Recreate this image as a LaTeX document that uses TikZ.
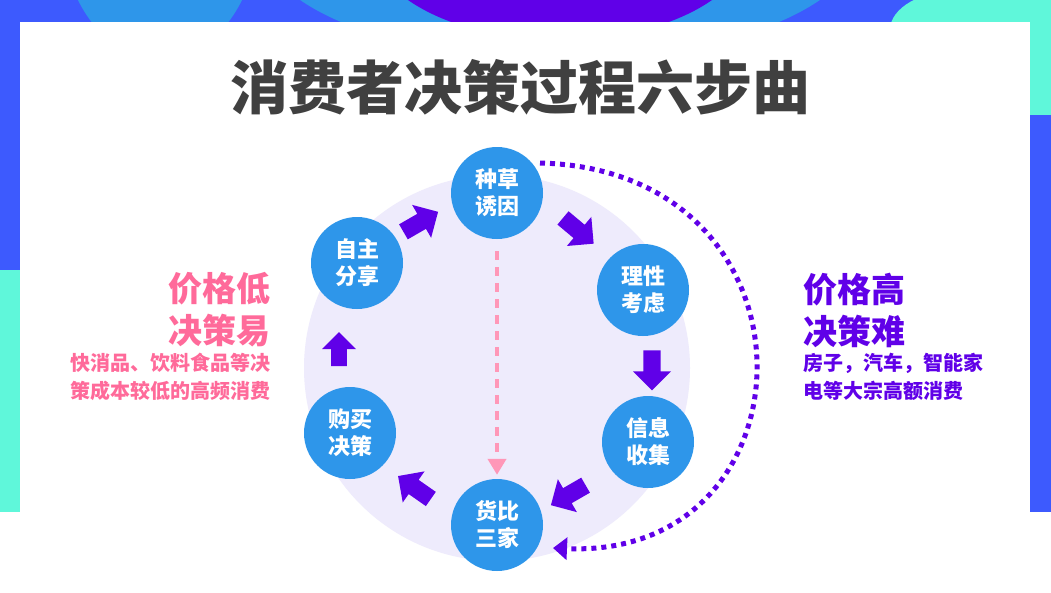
\documentclass[tikz,border=0pt]{standalone}
\usepackage{fontspec}
\setmainfont{Noto Sans CJK SC}
\usetikzlibrary{shapes.arrows,arrows.meta,calc}
\definecolor{bblue}{HTML}{2E96EA}
\definecolor{ppl}{HTML}{6000E8}
\definecolor{pnk}{HTML}{FF6A9A}
\definecolor{teal}{HTML}{5FF7DA}
\definecolor{royal}{HTML}{3D5AFE}
\definecolor{lav}{HTML}{EEEBFC}
\tikzset{
 stepnode/.style={circle,fill=bblue,minimum size=92pt,inner sep=0pt,text=white,font=\fontsize{22}{27}\selectfont\bfseries,align=center},
 blk/.style={single arrow,fill=ppl,minimum height=40pt,minimum width=38pt,single arrow head extend=5pt,inner sep=4pt,anchor=center},
}
\begin{document}
\begin{tikzpicture}[x=1pt,y=-1pt]
\useasboundingbox (0,0) rectangle (1051,592);
\begin{scope}
\clip (0,0) rectangle (1051,512);
\fill[royal] (0,0) rectangle (1051,512);
\fill[teal] (0,270) rectangle (20,512);
\fill[bblue] (160,-80) ellipse (100 and 140);
\fill[teal] (1000,0) rectangle (1051,115);
\fill[bblue] (560,-60) ellipse (300 and 120);
\fill[ppl] (560,-60) ellipse (190 and 100);
\fill[teal] (960,30) ellipse (70 and 40);
\end{scope}
\fill[white] (20,22) rectangle (1030,512);
\fill[white] (0,512) rectangle (1051,592);
\node (title) at (520,87) {\fontsize{58}{64}\selectfont\bfseries\color[HTML]{404040}消费者决策过程六步曲};
\fill[lav] (497,368) circle (193);
\node[stepnode] (s1) at (497,193) {种草\\诱因};
\node[stepnode] (s2) at (643,290) {理性\\考虑};
\node[stepnode] (s3) at (648,442) {信息\\收集};
\node[stepnode] (s4) at (497,525) {货比\\三家};
\node[stepnode] (s5) at (350,433) {购买\\决策};
\node[stepnode] (s6) at (357,263) {自主\\分享};
\node[blk,rotate=30] (a1) at (417,224) {};
\node[blk,rotate=-40] (a2) at (575,228) {};
\node[blk,rotate=-90] (a3) at (652,366) {};
\node[blk,rotate=-150] (a4) at (572,493) {};
\node[blk,rotate=145] (a5) at (418,490) {};
\node[blk,rotate=90,minimum height=34pt,minimum width=34pt] (a6) at (339,353) {};
\draw[pnk!70,line width=4pt,dash pattern=on 9pt off 7pt,-{Triangle[length=16pt,width=18pt]}] ($(s1.south)+(0,12)$) -- ($(s4.north)+(0,-4)$);
\coordinate (d0) at (540,163);
\coordinate (d1) at (553,548);
\draw[ppl,line width=5pt,dash pattern=on 5pt off 5pt,-{Triangle[length=14pt,width=22pt]}] (d0) .. controls (830,170) and (820,560) .. (d1);
\node[anchor=east,align=right,text=pnk,font=\fontsize{34}{42}\selectfont\bfseries] (lt) at (274,310) {价格低\\决策易};
\node[anchor=east,align=right,text=pnk,font=\fontsize{20}{28}\selectfont\bfseries] (ls) at (274,377) {快消品、饮料食品等决\\策成本较低的高频消费};
\node[anchor=west,align=left,text=ppl,font=\fontsize{34}{42}\selectfont\bfseries] (rt) at (800,310) {价格高\\决策难};
\node[anchor=west,align=left,text=ppl,font=\fontsize{20}{28}\selectfont\bfseries] (rs) at (800,377) {房子，汽车，智能家\\电等大宗高额消费};
\end{tikzpicture}
\end{document}
